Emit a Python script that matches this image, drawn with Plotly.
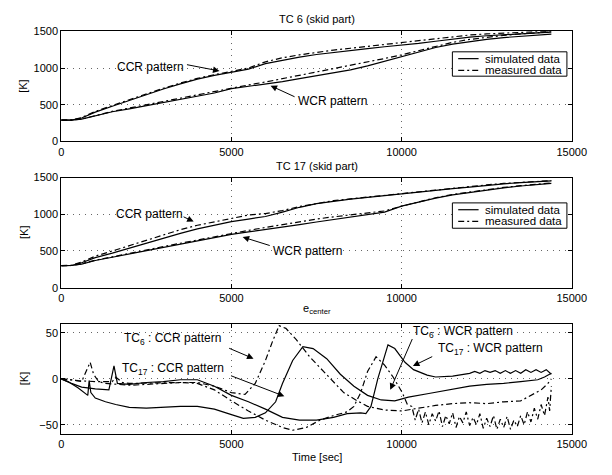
import plotly.graph_objects as go

# ---------------- data ----------------
# Panel 1 / 2 common time grid (x axis)
t_top = [0, 300, 600, 1000, 1500, 2000, 2500, 3000, 3500, 4000, 4500, 5000, 5500, 6000,
         6500, 7000, 7500, 8000, 8500, 9000, 9500, 10000, 10500, 11000, 11500, 12000,
         12500, 13000, 13500, 14000, 14400]

# TC 6 (skid part)
tc6_ccr_sim = [290, 292, 320, 400, 480, 560, 640, 715, 785, 850, 900, 945, 985, 1060,
               1110, 1150, 1185, 1215, 1240, 1265, 1290, 1310, 1335, 1365, 1395, 1420,
               1440, 1455, 1470, 1482, 1490]
tc6_ccr_meas = [290, 292, 325, 410, 490, 570, 650, 725, 795, 860, 910, 955, 1000, 1085,
                1140, 1180, 1215, 1245, 1270, 1295, 1320, 1345, 1375, 1405, 1430, 1450,
                1465, 1478, 1488, 1496, 1500]
tc6_wcr_sim = [290, 292, 305, 350, 405, 445, 490, 530, 570, 615, 660, 720, 750, 780,
               815, 855, 895, 935, 975, 1030, 1095, 1160, 1225, 1280, 1325, 1360, 1390,
               1415, 1435, 1452, 1462]
tc6_wcr_meas = [290, 292, 305, 355, 410, 455, 500, 545, 590, 635, 680, 735, 770, 810,
                855, 900, 945, 985, 1030, 1080, 1130, 1180, 1240, 1300, 1350, 1390, 1420,
                1445, 1465, 1485, 1495]

# TC 17 (skid part)
tc17_ccr_sim = [300, 302, 340, 410, 470, 540, 610, 670, 740, 800, 850, 900, 935, 970,
                1030, 1095, 1145, 1180, 1205, 1230, 1255, 1275, 1300, 1325, 1350, 1370,
                1395, 1415, 1430, 1445, 1455]
tc17_ccr_meas = [300, 305, 350, 430, 500, 575, 650, 715, 790, 850, 900, 945, 990, 1010,
                 1050, 1105, 1150, 1185, 1210, 1235, 1260, 1282, 1305, 1330, 1355, 1378,
                 1400, 1420, 1435, 1448, 1458]
tc17_wcr_sim = [300, 302, 320, 370, 415, 460, 500, 545, 590, 630, 680, 725, 760, 790,
                825, 860, 895, 930, 960, 990, 1030, 1110, 1170, 1220, 1265, 1300, 1330,
                1360, 1385, 1405, 1420]
tc17_wcr_meas = [300, 302, 325, 375, 420, 470, 515, 560, 605, 650, 700, 740, 780, 820,
                 860, 900, 935, 965, 995, 1015, 1045, 1110, 1170, 1225, 1270, 1305, 1335,
                 1365, 1390, 1410, 1425]

# Panel 3: differences [K]
t_a = [0, 200, 500, 780, 820, 870, 1000, 1300, 1600, 2000, 2500, 3000, 3500, 4000, 4500,
       5000, 5350, 5700, 6000, 6300, 6500, 6800, 7100, 7400, 7800, 8200, 8600, 9000, 9400,
       9800, 10200, 10800, 11500, 12000, 12500, 13000, 13500, 14000, 14200, 14400]
tc17_ccr_diff = [0, -3, -10, -18, -2, -15, -21, -25, -28, -31, -32, -31, -30, -30, -33,
                 -39, -43, -42, -37, -25, -5, 20, 35, 33, 22, 5, -8, -18, -23, -24, -20,
                 -16, -11, -8, -6, -5, -3, -1, 2, 6]

t_b = [0, 300, 600, 1000, 1400, 1550, 1650, 2000, 2500, 3000, 3500, 4000, 4500, 5000,
       5500, 6000, 6500, 7000, 7500, 8000, 8400, 8800, 8950, 9100, 9300, 9450, 9600, 9800,
       10100, 10350, 10750, 11000, 11500, 12000, 12150, 12300, 12450, 12600, 12750, 12900,
       13050, 13200, 13350, 13500, 13650, 13800, 13950, 14100, 14250, 14400]
tc17_wcr_diff = [0, -5, -9, -11, -12, 14, -5, -6, -4, -3, -1, -1, -8, -18, -25, -33, -42,
                 -45, -45, -42, -38, -37, -38, -30, 0, 20, 37, 33, 18, 10, 4, 2, 3, 6, 8,
                 6, 9, 7, 9, 6, 9, 6, 9, 6, 10, 7, 10, 7, 10, 5]

t_c = [0, 300, 600, 850, 950, 1100, 1300, 1700, 2000, 2500, 3000, 3500, 4000, 4500, 5000,
       5400, 5700, 6000, 6200, 6400, 6600, 6900, 7300, 7700, 8300, 8700, 9000, 9500, 10000,
       10500, 11000, 11500, 12000, 12500, 13000, 13500, 13800, 14100, 14300, 14400]
tc6_ccr_diff = [0, -1, -3, 18, 5, -3, -5, -6, -7, -6, -5, -4, -4, -8, -15, -17, -5, 20,
                40, 58, 55, 43, 24, 8, -15, -24, -30, -34, -35, -32, -29, -27, -26, -27,
                -25, -24, -18, -12, -5, 0]

t_d = [0, 500, 1000, 1500, 1600, 1800, 2000, 3000, 3500, 4000, 4500, 5000, 5500, 6000,
       6500, 6800, 7200, 7600, 8000, 8400, 8600, 8800, 9000, 9250, 9500, 9750, 9920, 10020,
       10170, 10300, 10400, 10500, 10600, 10700, 10800, 10900, 11000, 11100, 11200, 11300,
       11400, 11500, 11600, 11700, 11800, 11900, 12000, 12100, 12200, 12300, 12400, 12500,
       12600, 12700, 12800, 12900, 13000, 13100, 13200, 13300, 13400, 13500, 13600, 13700,
       13800, 13900, 14000, 14100, 14200, 14300, 14350, 14400]
tc6_wcr_diff = [0, -2, -3, -3, 2, -4, -5, -4, -4, -5, -12, -24, -35, -45, -53, -56, -53,
                -45, -40, -36, -30, -15, 8, 24, 15, 2, -8, -15, -28, -30, -45, -33, -48,
                -36, -50, -38, -46, -35, -52, -40, -49, -37, -53, -41, -48, -36, -51, -42,
                -50, -38, -54, -43, -52, -40, -55, -44, -53, -41, -55, -45, -52, -40, -50,
                -36, -47, -32, -44, -28, -40, -20, -35, -8]

x_ticks = [0, 5000, 10000, 15000]
x_tick_labels = ["0", "5000", "10000", "15000"]
y_ticks_top = [0, 500, 1000, 1500]
y_tick_labels_top = ["0", "500", "1000", "1500"]
y_ticks_bottom = [-50, 0, 50]
y_tick_labels_bottom = ["\u221250", "0", "50"]

# ---------------- figure ----------------
fig = go.Figure()

DD = "6px,3px,2px,3px"


def add_line(x, y, xa, ya, dash):
    fig.add_trace(go.Scatter(x=x, y=y, xaxis=xa, yaxis=ya, mode="lines",
                             line=dict(color="black", width=1.2, dash=dash),
                             showlegend=False, hoverinfo="skip"))


add_line(t_top, tc6_ccr_sim, "x", "y", "solid")
add_line(t_top, tc6_ccr_meas, "x", "y", DD)
add_line(t_top, tc6_wcr_sim, "x", "y", "solid")
add_line(t_top, tc6_wcr_meas, "x", "y", DD)

add_line(t_top, tc17_ccr_sim, "x2", "y2", "solid")
add_line(t_top, tc17_ccr_meas, "x2", "y2", DD)
add_line(t_top, tc17_wcr_sim, "x2", "y2", "solid")
add_line(t_top, tc17_wcr_meas, "x2", "y2", DD)

add_line(t_a, tc17_ccr_diff, "x3", "y3", "solid")
add_line(t_b, tc17_wcr_diff, "x3", "y3", "solid")
add_line(t_c, tc6_ccr_diff, "x3", "y3", DD)
add_line(t_d, tc6_wcr_diff, "x3", "y3", DD)

W, H = 612, 475
XD = [60 / W, 586 / W]


def ydom(top, bottom):
    return [1 - bottom / H, 1 - top / H]


FONT = dict(family="Liberation Sans, Arial, sans-serif", size=11, color="black")

axis_common = dict(showline=True, linecolor="black", linewidth=1, mirror="allticks",
                   ticks="inside", ticklen=4, tickcolor="black", showgrid=True,
                   gridcolor="#666", griddash="1px,5px", gridwidth=1, zeroline=False,
                   tickfont=FONT)

xa_common = dict(range=[0, 15000], tickmode="array", tickvals=x_ticks,
                 ticktext=x_tick_labels, **axis_common)

fig.update_layout(
    width=W, height=H, margin=dict(l=0, r=0, t=0, b=0),
    paper_bgcolor="white", plot_bgcolor="white", font=FONT, showlegend=False,
    xaxis=dict(domain=XD, anchor="y", **xa_common),
    yaxis=dict(domain=ydom(26, 139), anchor="x", range=[0, 1500], tickmode="array",
               tickvals=y_ticks_top, ticktext=y_tick_labels_top, **axis_common),
    xaxis2=dict(domain=XD, anchor="y2", **xa_common),
    yaxis2=dict(domain=ydom(176, 289), anchor="x2", range=[0, 1500], tickmode="array",
                tickvals=y_ticks_top, ticktext=y_tick_labels_top, **axis_common),
    xaxis3=dict(domain=XD, anchor="y3", **xa_common),
    yaxis3=dict(domain=ydom(326, 439), anchor="x3", range=[-60, 60], tickmode="array",
                tickvals=y_ticks_bottom, ticktext=y_tick_labels_bottom, **axis_common),
)

ann = []
shapes = []


def paper_text(text, px, py, size=11, **kw):
    d = dict(text=text, x=px / W, y=1 - py / H, xref="paper", yref="paper",
             showarrow=False, font=dict(FONT, size=size), xanchor="center",
             yanchor="middle")
    d.update(kw)
    ann.append(d)


paper_text("TC 6 (skid part)", 323, 13)
paper_text("TC 17 (skid part)", 323, 164)
paper_text("e<sub>center</sub>", 323, 311)
paper_text("Time [sec]", 323, 463)
for yc in [(26 + 139) / 2, (176 + 289) / 2, (326 + 439) / 2]:
    paper_text("[K]", 21, yc, textangle=-90)

AFONT = dict(family="Liberation Sans, Arial, sans-serif", size=12, color="black")


def data_text(text, x, y, xr, yr):
    ann.append(dict(text=text, x=x, y=y, xref=xr, yref=yr, showarrow=False, font=AFONT,
                    xanchor="center", yanchor="middle"))


def arrow(tip, tail, xr, yr):
    ann.append(dict(text="", x=tip[0], y=tip[1], ax=tail[0], ay=tail[1], xref=xr, yref=yr,
                    axref=xr, ayref=yr, showarrow=True, arrowhead=2, arrowsize=1.3,
                    arrowwidth=1, arrowcolor="black", standoff=0, startstandoff=0))


# panel 1
data_text("CCR pattern", 2611, 1012, "x", "y")
arrow((4650, 960), (3650, 1050), "x", "y")
data_text("WCR pattern", 7967, 546, "x", "y")
arrow((6150, 760), (6900, 600), "x", "y")
# panel 2
data_text("CCR pattern", 2589, 1003, "x2", "y2")
arrow((3890, 900), (3550, 975), "x2", "y2")
data_text("WCR pattern", 7244, 501, "x2", "y2")
arrow((5330, 690), (6170, 568), "x2", "y2")
# panel 3
data_text("TC<sub>6</sub> : CCR pattern", 3278, 43, "x3", "y3")
arrow((5650, 22), (4890, 34), "x3", "y3")
data_text("TC<sub>17</sub> : CCR pattern", 3278, 11, "x3", "y3")
arrow((6556, -19), (4944, 4), "x3", "y3")
data_text("TC<sub>6</sub> : WCR pattern", 11800, 51, "x3", "y3")
arrow((9667, -12), (10333, 45), "x3", "y3")
data_text("TC<sub>17</sub> : WCR pattern", 12611, 32, "x3", "y3")
arrow((10333, 14), (10944, 25), "x3", "y3")


# manual legend boxes
def legend_box(top, bottom, row1, row2):
    shapes.append(dict(type="rect", xref="paper", yref="paper", x0=463 / W, x1=581 / W,
                       y0=1 - bottom / H, y1=1 - top / H,
                       line=dict(color="black", width=1), fillcolor="white", layer="above"))
    shapes.append(dict(type="line", xref="paper", yref="paper", x0=469 / W, x1=490 / W,
                       y0=1 - row1 / H, y1=1 - row1 / H, line=dict(color="black", width=1.2),
                       layer="above"))
    shapes.append(dict(type="line", xref="paper", yref="paper", x0=469 / W, x1=490 / W,
                       y0=1 - row2 / H, y1=1 - row2 / H,
                       line=dict(color="black", width=1.2, dash=DD), layer="above"))
    paper_text("simulated data", 495, row1, size=11.5, xanchor="left")
    paper_text("measured data", 495, row2, size=11.5, xanchor="left")


legend_box(47, 72, 54, 66)
legend_box(202, 228, 209, 221)

fig.update_layout(annotations=ann, shapes=shapes)
fig.write_html("out.html")
